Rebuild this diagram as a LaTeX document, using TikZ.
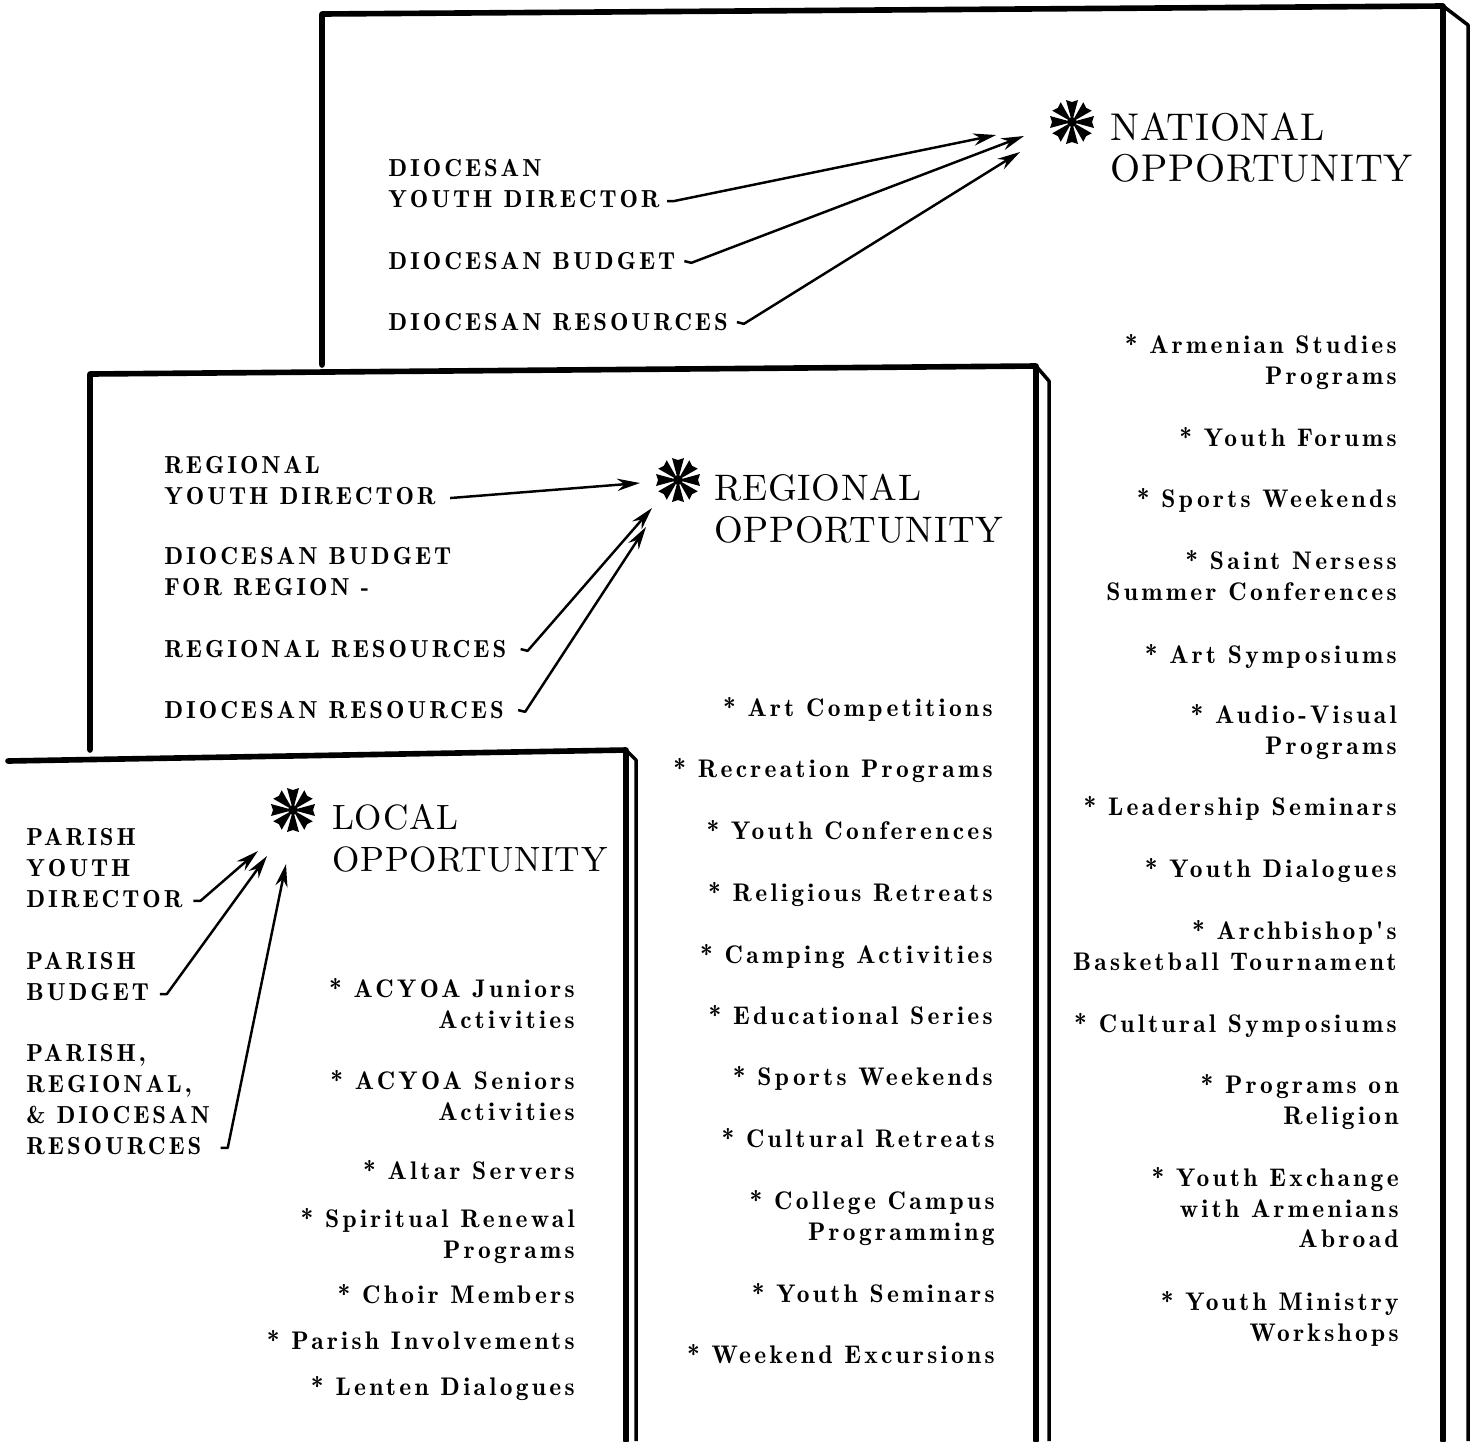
\documentclass[tikz,border=0pt]{standalone}
\usepackage{fontspec}
\usetikzlibrary{arrows.meta}
\newfontfamily\lblfont{lmromandemi10-regular.otf}[LetterSpace=12]
\newfontfamily\itemfont{lmromandemi10-regular.otf}[LetterSpace=13]
\newfontfamily\headfont{lmroman10-regular.otf}[LetterSpace=2]
\tikzset{
  panel/.style={line width=3.2pt, line cap=round, line join=round},
  rim/.style={line width=2pt, line join=round},
  lbl/.style={anchor=north west, align=left, inner sep=0pt,
    font=\lblfont\fontsize{14}{17.6}\selectfont},
  item/.style={anchor=north east, align=right, inner sep=0pt,
    font=\itemfont\fontsize{14.5}{17.4}\selectfont},
  head/.style={anchor=north west, align=left, inner sep=0pt,
    font=\headfont\fontsize{#1}{23.8}\selectfont},
  head/.default=22,
  flow/.style={line width=1.4pt, line join=round, -{Stealth[length=13pt,width=7pt]}},
  opstar/.pic={
    \foreach \a in {0,45,...,315}
      \fill[rotate=\a] (0,0) -- (22,-6) -- (20,0) -- (22,6) -- cycle;
    \fill (0,0) circle (5);
  }
}
\begin{document}
\begin{tikzpicture}[x=0.02cm, y=-0.02cm]
  \useasboundingbox (0,0) rectangle (1476,1441);

  % national panel
  \draw[panel] (322,365) -- (322,14) -- (1443,6) -- (1443,1441);
  \draw[rim] (1443,6) -- (1468,25) -- (1468,1441);
  % regional panel
  \draw[panel] (90,750) -- (90,374) -- (1036,366) -- (1036,1441);
  \draw[rim] (1036,366) -- (1049,381) -- (1049,1441);
  % local panel
  \draw[panel] (8,761) -- (626,750) -- (626,1441);
  \draw[rim] (626,750) -- (636,760) -- (636,1441);

  % national
  \pic at (1072,122) {opstar};
  \node[head] (nhead) at (1110,112) {NATIONAL\\OPPORTUNITY};
  \node[lbl] (ndir) at (388,159) {DIOCESAN\\YOUTH DIRECTOR};
  \node[lbl] (nbud) at (388,252) {DIOCESAN BUDGET};
  \node[lbl] (nres) at (388,313) {DIOCESAN RESOURCES};
  \coordinate (nt1) at (996,135);
  \coordinate (nt2) at (1024,136);
  \coordinate (nt3) at (1020,152);
  \draw[flow] ([shift={(4pt,4pt)}]ndir.south east) -- ([shift={(8pt,4pt)}]ndir.south east) -- (nt1);
  \draw[flow] ([xshift=5pt]nbud.east) -- ([xshift=9pt,yshift=-1pt]nbud.east) -- (nt2);
  \draw[flow] ([xshift=5pt]nres.east) -- ([xshift=9pt,yshift=-1pt]nres.east) -- (nt3);

  \node[item] (n1) at (1397,334) {* Armenian Studies\\Programs};
  \node[item] (n2) at (1397,427) {* Youth Forums};
  \node[item] (n3) at (1397,488) {* Sports Weekends};
  \node[item] (n4) at (1397,550) {* Saint Nersess\\Summer Conferences};
  \node[item] (n5) at (1397,644) {* Art Symposiums};
  \node[item] (n6) at (1397,704) {* Audio-Visual\\Programs};
  \node[item] (n7) at (1397,796) {* Leadership Seminars};
  \node[item] (n8) at (1397,858) {* Youth Dialogues};
  \node[item] (n9) at (1397,920) {* Archbishop's\\Basketball Tournament};
  \node[item] (n10) at (1397,1013) {* Cultural Symposiums};
  \node[item] (n11) at (1399,1074) {* Programs on\\Religion};
  \node[item] (n12) at (1399,1167) {* Youth Exchange\\with Armenians\\Abroad};
  \node[item] (n13) at (1399,1291) {* Youth Ministry\\Workshops};

  % regional
  \pic at (678,480) {opstar};
  \node[head=21] (rhead) at (714,474) {REGIONAL\\OPPORTUNITY};
  \node[lbl] (rdir) at (164,456) {REGIONAL\\YOUTH DIRECTOR};
  \node[lbl] (rbud) at (164,547) {DIOCESAN BUDGET\\FOR REGION -};
  \node[lbl] (rres) at (164,640) {REGIONAL RESOURCES};
  \node[lbl] (rdres) at (164,701) {DIOCESAN RESOURCES};
  \coordinate (rt1) at (640,483);
  \coordinate (rt2) at (652,508);
  \coordinate (rt3) at (646,527);
  \draw[flow] ([shift={(8pt,4pt)}]rdir.south east) -- (rt1);
  \draw[flow] ([xshift=8pt]rres.east) -- ([xshift=12pt,yshift=-1pt]rres.east) -- (rt2);
  \draw[flow] ([xshift=8pt]rdres.east) -- ([xshift=12pt,yshift=-1pt]rdres.east) -- (rt3);

  \node[item] (r1) at (993,697) {* Art Competitions};
  \node[item] (r2) at (993,758) {* Recreation Programs};
  \node[item] (r3) at (993,820) {* Youth Conferences};
  \node[item] (r4) at (993,882) {* Religious Retreats};
  \node[item] (r5) at (993,944) {* Camping Activities};
  \node[item] (r6) at (993,1005) {* Educational Series};
  \node[item] (r7) at (993,1066) {* Sports Weekends};
  \node[item] (r8) at (995,1128) {* Cultural Retreats};
  \node[item] (r9) at (995,1190) {* College Campus\\Programming};
  \node[item] (r10) at (995,1283) {* Youth Seminars};
  \node[item] (r11) at (995,1344) {* Weekend Excursions};

  % local
  \pic at (293,810) {opstar};
  \node[head=20] (lhead) at (332,804) {LOCAL\\OPPORTUNITY};
  \node[lbl] (ldir) at (26,828) {PARISH\\YOUTH\\DIRECTOR};
  \node[lbl] (lbud) at (26,952) {PARISH\\BUDGET};
  \node[lbl] (lres) at (26,1044) {PARISH,\\REGIONAL,\\\& DIOCESAN\\RESOURCES};
  \coordinate (lt1) at (258,851);
  \coordinate (lt2) at (267,856);
  \coordinate (lt3) at (286,864);
  \draw[flow] ([shift={(6pt,4pt)}]ldir.south east) -- ([shift={(10pt,4pt)}]ldir.south east) -- (lt1);
  \draw[flow] ([shift={(6pt,4pt)}]lbud.south east) -- ([shift={(10pt,4pt)}]lbud.south east) -- (lt2);
  \draw[flow] ([shift={(6pt,4pt)}]lres.south east) -- ([shift={(10pt,4pt)}]lres.south east) -- (lt3);

  \node[item] (l1) at (575,978) {* ACYOA Juniors\\Activities};
  \node[item] (l2) at (575,1070) {* ACYOA Seniors\\Activities};
  \node[item] (l3) at (575,1160) {* Altar Servers};
  \node[item] (l4) at (575,1208) {* Spiritual Renewal\\Programs};
  \node[item] (l5) at (575,1284) {* Choir Members};
  \node[item] (l6) at (575,1330) {* Parish Involvements};
  \node[item] (l7) at (575,1376) {* Lenten Dialogues};
\end{tikzpicture}
\end{document}
